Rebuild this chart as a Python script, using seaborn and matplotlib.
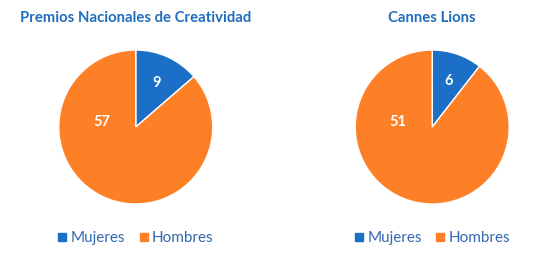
import numpy as np
import seaborn as sns
import matplotlib.pyplot as plt
from matplotlib.lines import Line2D

# data
titles = ["Premios Nacionales de Creatividad", "Cannes Lions"]
categories = ["Mujeres", "Hombres"]
mujeres = [9, 6]
hombres = [57, 51]
colors = ["#1c6fc6", "#fd7f26"]
title_color = "#1f6dbd"
legend_color = "#3368b0"

sns.set_theme(style="white")
plt.rcParams['font.family'] = ['Lato', 'DejaVu Sans']

fig = plt.figure(figsize=(5.43, 2.6), dpi=100)
centers_x = [0.25, 0.796]
w, h = 154 / 543, 154 / 260

for i, title in enumerate(titles):
    ax = fig.add_axes([centers_x[i] - w / 2, 1 - 127 / 260 - h / 2, w, h])
    vals = [mujeres[i], hombres[i]]
    wedges, _ = ax.pie(vals, colors=colors, startangle=90, counterclock=False,
                       wedgeprops={'edgecolor': 'white', 'linewidth': 1.0})
    ax.set_xlim(-1, 1)
    ax.set_ylim(-1, 1)
    # blue label at slice midpoint, orange label to the left of centre
    frac = vals[0] / sum(vals)
    a = np.deg2rad(90 - frac * 360 / 2)
    ax.text(0.64 * np.cos(a), 0.63 * np.sin(a), str(vals[0]), color='white',
            fontsize=10.5, fontweight='bold', ha='center', va='center')
    b = np.deg2rad(172)
    ax.text(0.45 * np.cos(b), 0.45 * np.sin(b), str(vals[1]), color='white',
            fontsize=10.5, fontweight='bold', ha='center', va='center')

    fig.text(centers_x[i], 1 - 18 / 260, title, color=title_color, fontsize=10.7,
             fontweight='bold', ha='center', va='center')

    handles = [Line2D([0], [0], marker='s', linestyle='', markersize=6,
                      markerfacecolor=c, markeredgecolor=c) for c in colors]
    leg = fig.legend(handles, categories, loc='center',
                     bbox_to_anchor=(centers_x[i], 1 - 238 / 260), ncol=2,
                     frameon=False, fontsize=11, handletextpad=0.25,
                     columnspacing=0.9, handlelength=0.6)
    for t in leg.get_texts():
        t.set_color(legend_color)

fig.savefig("out.png", dpi=100)
